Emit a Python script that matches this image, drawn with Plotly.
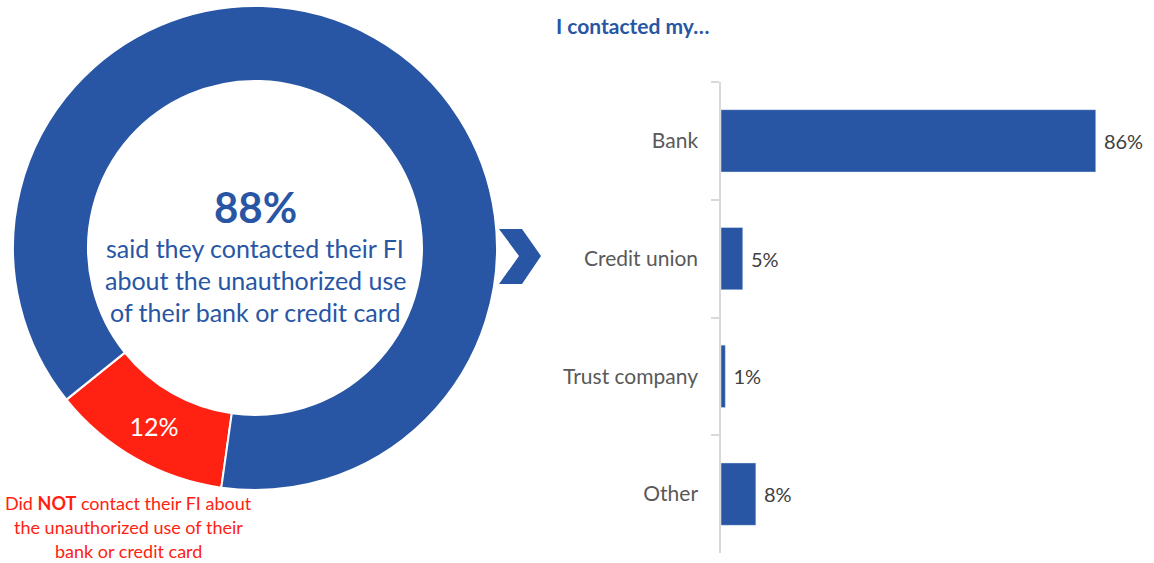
import plotly.graph_objects as go

W, H = 1154, 563

# Data
donut_labels = ["Did NOT contact", "Contacted"]
donut_values = [12, 88]
bar_categories = ["Bank", "Credit union", "Trust company", "Other"]
bar_values = [86, 5, 1, 8]

BLUE = "#2856A4"
RED = "#FF2212"
FONT = "Lato"

def px(x):
    return x / W

def py(y):
    return 1 - y / H

fig = go.Figure()

fig.add_trace(go.Pie(
    labels=donut_labels,
    values=donut_values,
    sort=False,
    direction="clockwise",
    rotation=188,
    hole=0.69,
    marker=dict(colors=[RED, BLUE], line=dict(color="white", width=2)),
    texttemplate=["%{value}%", ""],
    textposition="inside",
    insidetextorientation="horizontal",
    textfont=dict(family=FONT, size=25, color="white"),
    showlegend=False,
    hoverinfo="skip",
    domain=dict(x=[px(13), px(497)], y=[py(490), py(6)]),
))

fig.add_trace(go.Bar(
    y=bar_categories,
    x=bar_values,
    orientation="h",
    marker=dict(color=BLUE),
    texttemplate=" %{x}%",
    textposition="outside",
    cliponaxis=False,
    textfont=dict(family=FONT, size=20, color="#404040"),
    showlegend=False,
    hoverinfo="skip",
    xaxis="x", yaxis="y",
))

fig.update_layout(
    width=W, height=H,
    margin=dict(l=0, r=0, t=0, b=0),
    paper_bgcolor="white",
    plot_bgcolor="white",
    font=dict(family=FONT),
    bargap=0.47,
    xaxis=dict(domain=[px(721), px(1135)], range=[0, 95], visible=False,
               showgrid=False, zeroline=False),
    yaxis=dict(domain=[py(553), py(82)], autorange="reversed",
               categoryorder="array", categoryarray=bar_categories,
               showline=True, linecolor="#D9D9D9", linewidth=1.5,
               ticks="outside", tickson="boundaries", ticklen=8,
               tickcolor="#D9D9D9", tickwidth=1.5,
               tickfont=dict(family=FONT, size=21, color="#595959"),
               ticklabelstandoff=17,
               showgrid=False, zeroline=False),
)

annotations = [
    dict(x=px(255), y=py(207), text="<b>88%</b>", font=dict(size=42, color=BLUE, family=FONT)),
    dict(x=px(255), y=py(248), text="said they contacted their FI", font=dict(size=25, color=BLUE, family=FONT)),
    dict(x=px(255), y=py(280), text="about the unauthorized use", font=dict(size=25, color=BLUE, family=FONT)),
    dict(x=px(255), y=py(312), text="of their bank or credit card", font=dict(size=25, color=BLUE, family=FONT)),
    dict(x=px(128), y=py(503), text="Did <b>NOT</b> contact their FI about", font=dict(size=18, color=RED, family=FONT)),
    dict(x=px(128), y=py(527), text="the unauthorized use of their", font=dict(size=18, color=RED, family=FONT)),
    dict(x=px(128), y=py(551), text="bank or credit card", font=dict(size=18, color=RED, family=FONT)),
    dict(x=px(554), y=py(25), text="<b>I contacted my…</b>", xanchor="left", font=dict(size=21, color=BLUE, family=FONT)),
]
for a in annotations:
    a.setdefault("xanchor", "center")
    a.update(xref="paper", yref="paper", yanchor="middle", showarrow=False)
fig.update_layout(annotations=annotations)

pts = [(499, 229), (522, 229), (541, 256), (522, 284), (499, 284), (519, 256)]
path = "M " + " L ".join(f"{px(x)},{py(y)}" for x, y in pts) + " Z"
fig.add_shape(type="path", path=path, xref="paper", yref="paper",
              fillcolor=BLUE, line=dict(width=0))

fig.write_html("out.html", config={"displayModeBar": False},
               post_script="document.body.style.margin='0';document.body.style.overflow='hidden';")
